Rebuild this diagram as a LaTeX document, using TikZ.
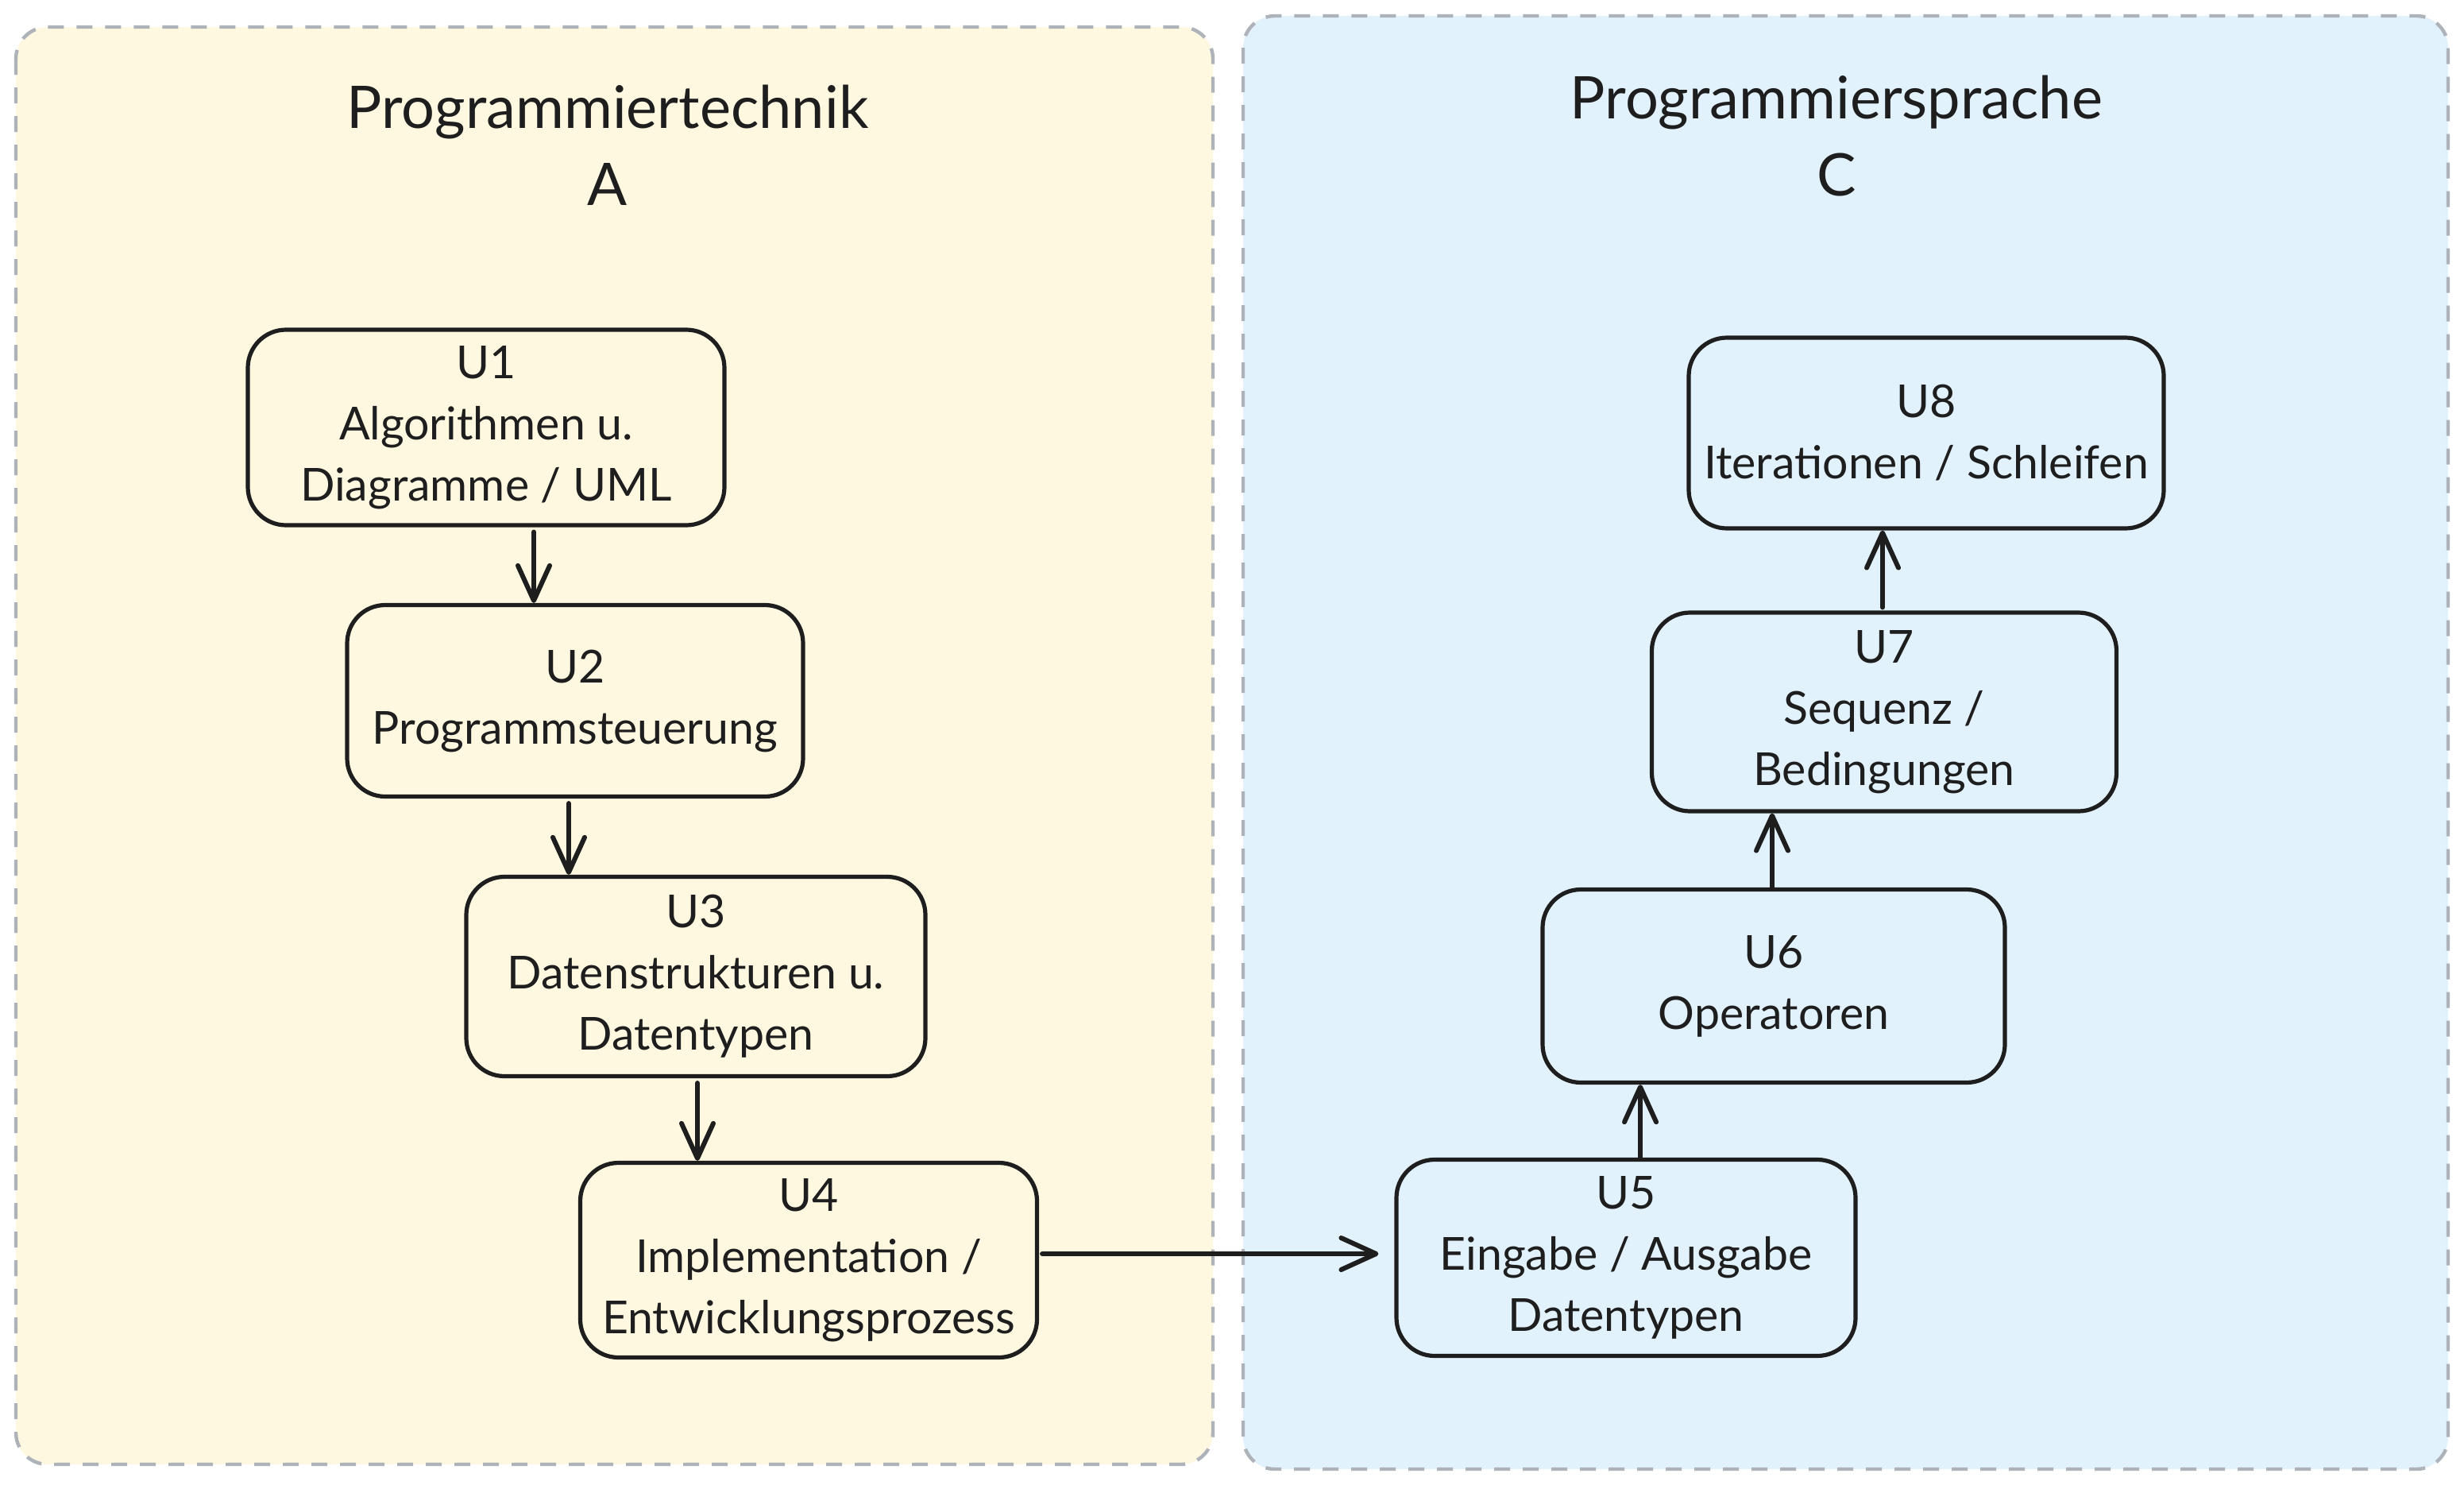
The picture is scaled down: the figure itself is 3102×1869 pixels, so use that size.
\documentclass[tikz,border=0pt]{standalone}
\usepackage{fontspec}
\setmainfont{Lato}
\usetikzlibrary{arrows.meta,calc}
\definecolor{ink}{HTML}{1E1E1E}
\definecolor{ylbg}{HTML}{FFF8E1}
\definecolor{blbg}{HTML}{E1F2FD}
\definecolor{frame}{HTML}{ADB3B8}
\tikzset{
  unit/.style={draw=ink, line width=2.6pt, rounded corners=24pt, inner sep=0pt,
    align=center, text=ink, font=\fontsize{28.6pt}{38.5pt}\selectfont},
  title/.style={align=center, text=ink, font=\fontsize{37pt}{48.5pt}\selectfont},
  container/.style={draw=frame, line width=2.2pt, dash pattern=on 10pt off 8pt, rounded corners=20pt},
  arr/.style={draw=ink, line width=3pt, line cap=round,
    -{Straight Barb[length=22pt,width=20pt,line width=3pt,line join=round,line cap=round]}}
}
\begin{document}
\begin{tikzpicture}[x=0.5pt,y=-0.5pt]
\useasboundingbox (0,0) rectangle (3102,1869);
\fill[white] (0,0) rectangle (3102,1869);
% containers
\filldraw[container, fill=ylbg] (20,34) rectangle (1527,1843);
\filldraw[container, fill=blbg] (1565,20) rectangle (3082,1849);
\node[title] (tA) at (765,183) {Programmiertechnik\\A};
\node[title] (tC) at (2312,171) {Programmiersprache\\C};
% units
\node[unit, minimum width=300pt, minimum height=123pt] (U1) at (612,538) {U1\\Algorithmen u.\\Diagramme / UML};
\node[unit, minimum width=287pt, minimum height=120.5pt] (U2) at (724,882) {U2\\Programmsteuerung};
\node[unit, minimum width=289pt, minimum height=125.5pt] (U3) at (876,1229) {U3\\Datenstrukturen u.\\Datentypen};
\node[unit, minimum width=287.5pt, minimum height=122.5pt] (U4) at (1018,1586) {U4\\Implementation /\\Entwicklungsprozess};
\node[unit, minimum width=289pt, minimum height=123.5pt] (U5) at (2047,1583) {U5\\Eingabe / Ausgabe\\Datentypen};
\node[unit, minimum width=291pt, minimum height=121.5pt] (U6) at (2233,1241) {U6\\Operatoren};
\node[unit, minimum width=292.5pt, minimum height=125pt] (U7) at (2372,896) {U7\\Sequenz /\\Bedingungen};
\node[unit, minimum width=299pt, minimum height=120pt] (U8) at (2425,545) {U8\\Iterationen / Schleifen};
% connectors
\draw[arr, shorten <=3pt] (U1.south -| 672,0) -- (U2.north -| 672,0);
\draw[arr, shorten <=3pt] (U2.south -| 716,0) -- (U3.north -| 716,0);
\draw[arr, shorten <=3pt] (U3.south -| 878,0) -- (U4.north -| 878,0);
\draw[arr, shorten <=2pt, shorten >=10pt] (U4.east |- 0,1578) -- (U5.west |- 0,1578);
\draw[arr] (U5.north -| 2065,0) -- (U6.south -| 2065,0);
\draw[arr] (U6.north -| 2231,0) -- (U7.south -| 2231,0);
\draw[arr, shorten <=2pt] (U7.north -| 2370,0) -- (U8.south -| 2370,0);
\end{tikzpicture}
\end{document}
